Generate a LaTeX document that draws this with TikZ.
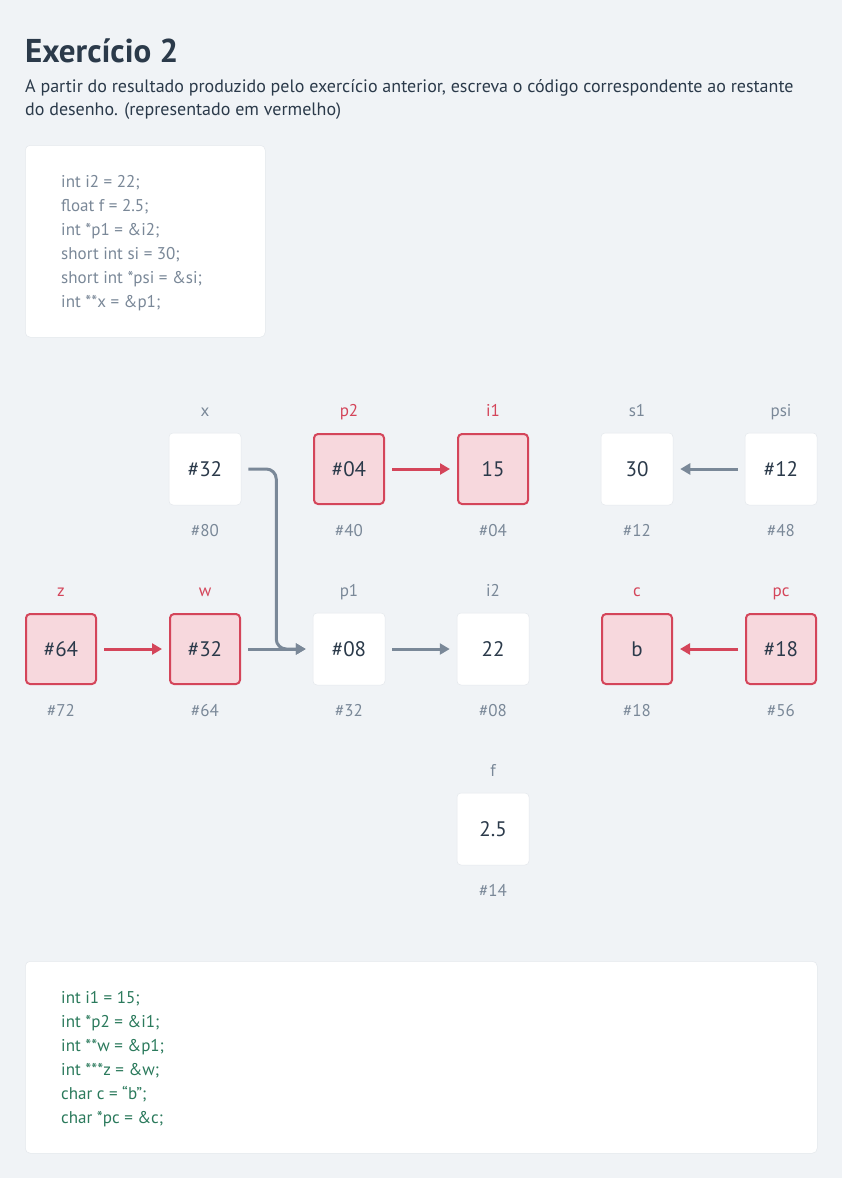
\documentclass[tikz,border=0pt]{standalone}
\usepackage{fontspec}
\setmainfont{PT Sans}
\usetikzlibrary{arrows.meta}
\definecolor{fundo}{HTML}{F0F3F6}
\definecolor{tinta}{HTML}{2B3A4A}
\definecolor{cinza}{HTML}{7A8898}
\definecolor{vermelho}{HTML}{D4455A}
\definecolor{rosa}{HTML}{F7D8DD}
\definecolor{verde}{HTML}{2B7A5C}
\definecolor{borda}{HTML}{E4E8EC}

\tikzset{
  caixa/.style={rectangle,rounded corners=4pt,minimum size=72pt,inner sep=0pt,
    text=tinta,font=\fontsize{21}{24}\selectfont},
  caixa-branca/.style={caixa,fill=white,draw=borda,line width=0.5pt},
  caixa-nova/.style={caixa,fill=rosa,draw=vermelho,line width=2pt,minimum size=70pt},
  nome-branca/.style={anchor=base,inner sep=0pt,text=cinza,font=\fontsize{17}{20}\selectfont},
  nome-nova/.style={nome-branca,text=vermelho},
  endereco/.style={nome-branca},
  bloco/.style={rectangle,rounded corners=5pt,fill=white,draw=borda,line width=0.5pt,
    anchor=north west,inner sep=0pt},
  codigo/.style={anchor=base west,inner sep=0pt,font=\fontsize{17}{20}\selectfont},
  enunciado/.style={anchor=base west,inner sep=0pt,text=tinta,font=\fontsize{18}{22}\selectfont},
  seta/.style={->,line width=3pt,cinza,shorten >=7pt,shorten <=7pt},
  seta-nova/.style={seta,vermelho}
}

\begin{document}
\begin{tikzpicture}[x=1pt,y=-1pt,>={Triangle[length=10pt,width=11pt]}]
  % Fundo da página
  \useasboundingbox[fill=fundo] (0,0) rectangle (842,1178);

  % Título e enunciado
  \node[anchor=base west,inner sep=0pt,text=tinta,font=\fontsize{33}{40}\selectfont\bfseries]
    (titulo) at (25,62) {Exercício 2};
  \node[enunciado] (enunciado1) at (25,92)
    {A partir do resultado produzido pelo exercício anterior, escreva o código correspondente ao restante};
  \node[enunciado] (enunciado2) at (25,115) {do desenho. (representado em vermelho)};

  % Código dado
  \node[bloco,minimum width=240pt,minimum height=192pt] (dado) at (25,145) {};
  \foreach \linha [count=\i] in {int i2 = 22;, float f = 2.5;, int *p1 = \&i2;,
      short int si = 30;, short int *psi = \&si;, int **x = \&p1;}
    \node[codigo,text=cinza] (dado-\i) at (61,163+24*\i) {\linha};

  % Caixas de memória
  \foreach \id/\cx/\cy/\val/\nm/\ad/\tipo in {
      x/205/469/\#32/x/\#80/branca,
      p2/349/469/\#04/p2/\#40/nova,
      i1/493/469/15/i1/\#04/nova,
      s1/637/469/30/s1/\#12/branca,
      psi/781/469/\#12/psi/\#48/branca,
      z/61/649/\#64/z/\#72/nova,
      w/205/649/\#32/w/\#64/nova,
      p1/349/649/\#08/p1/\#32/branca,
      i2/493/649/22/i2/\#08/branca,
      c/637/649/b/c/\#18/nova,
      pc/781/649/\#18/pc/\#56/nova,
      f/493/829/2.5/f/\#14/branca}
  {
    \node[caixa-\tipo] (\id) at (\cx,\cy) {\val};
    \node[nome-\tipo] (\id-nome) at (\cx,\cy-53) {\nm};
    \node[endereco] (\id-end) at (\cx,\cy+67) {\ad};
  }

  % Ponteiros
  \draw[seta,rounded corners=10pt] (x.east) -- ++(35,0) |- (p1.west);
  \draw[seta-nova] (p2) -- (i1);
  \draw[seta] (psi) -- (s1);
  \draw[seta-nova] (z) -- (w);
  \draw[seta] (w) -- (p1);
  \draw[seta] (p1) -- (i2);
  \draw[seta-nova] (pc) -- (c);

  % Resposta
  \node[bloco,minimum width=792pt,minimum height=192pt] (resposta) at (25,961) {};
  \foreach \linha [count=\i] in {int i1 = 15;, int *p2 = \&i1;, int **w = \&p1;,
      int ***z = \&w;, char c = “b”;, char *pc = \&c;}
    \node[codigo,text=verde] (resposta-\i) at (61,979+24*\i) {\linha};
\end{tikzpicture}
\end{document}
